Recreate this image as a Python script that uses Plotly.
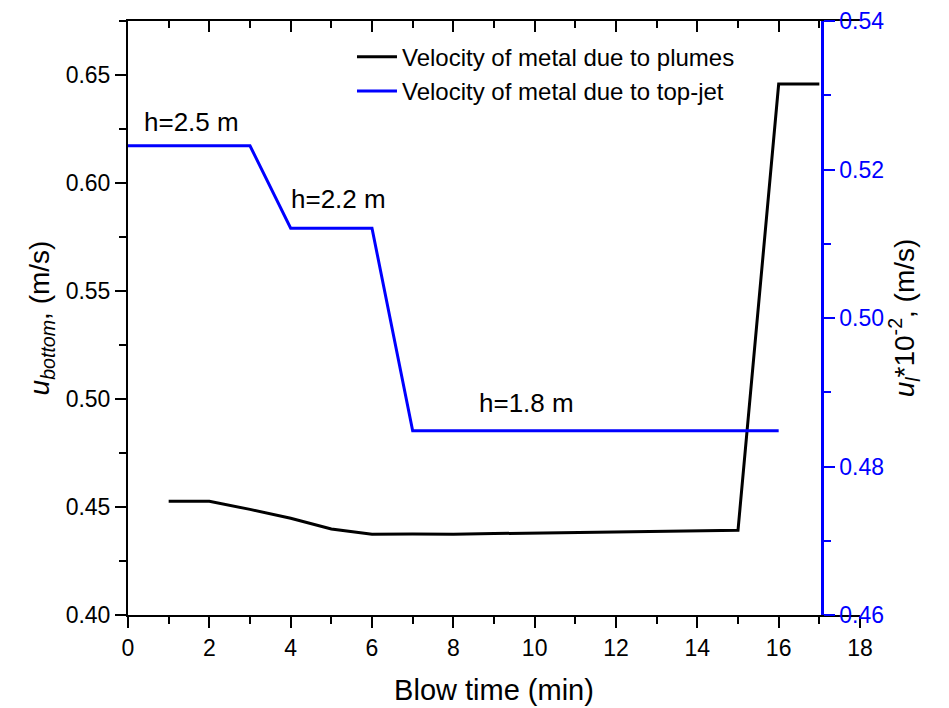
import plotly.graph_objects as go

# Blow time (min)
time_plumes = [1, 2, 3, 4, 5, 6, 7, 8, 9, 10, 11, 12, 13, 14, 15, 16, 17]
# Bottom velocity of metal driven by plumes (m/s)
u_bottom = [0.4527, 0.4527, 0.4489, 0.4448, 0.4398, 0.4374, 0.4375, 0.4374,
            0.4377, 0.4380, 0.4382, 0.4384, 0.4386, 0.4389, 0.4392, 0.6458, 0.6458]

# Top-jet driven velocity (x10^-2 m/s) at the lance heights
time_jet = [0, 3, 4, 6, 7, 16]
u_jet = [0.5232, 0.5232, 0.5121, 0.5121, 0.4848, 0.4848]

# Lance height labels
lance_labels = ["h=2.5 m", "h=2.2 m", "h=1.8 m"]
lance_x = [1.57, 5.18, 9.81]
lance_y = [0.6282, 0.5926, 0.4981]

FONT = "Arial, 'Liberation Sans', sans-serif"
BLUE = "#0000FF"

fig = go.Figure()

fig.add_trace(go.Scatter(
    x=time_plumes, y=u_bottom, mode="lines",
    line=dict(color="black", width=3),
    name="Velocity of metal due to plumes",
    xaxis="x", yaxis="y",
))
fig.add_trace(go.Scatter(
    x=time_jet, y=u_jet, mode="lines",
    line=dict(color=BLUE, width=3),
    name="Velocity of metal due to top-jet",
    xaxis="x2", yaxis="y2",
))

for txt, xv, yv in zip(lance_labels, lance_x, lance_y):
    fig.add_annotation(
        x=xv, y=yv, xref="x", yref="y", text=txt, showarrow=False,
        font=dict(family=FONT, size=26, color="black"),
        xanchor="center", yanchor="middle",
    )

axis_common = dict(showgrid=False, zeroline=False, linecolor="black",
                   linewidth=2, tickcolor="black", tickwidth=2,
                   automargin=False)

fig.update_layout(
    width=949, height=708,
    margin=dict(l=128, r=89, t=21, b=93),
    paper_bgcolor="white", plot_bgcolor="white",
    font=dict(family=FONT, size=23, color="black"),
    showlegend=True,
    legend=dict(
        x=0.306, y=0.977, xanchor="left", yanchor="top",
        bgcolor="rgba(0,0,0,0)", borderwidth=0,
        font=dict(family=FONT, size=24, color="black"),
        tracegroupgap=0, itemwidth=40,
    ),
    xaxis=dict(
        **axis_common,
        range=[0, 18], dtick=2, tick0=0,
        ticks="outside", ticklen=11, showline=True,
        minor=dict(dtick=1, ticks="outside", ticklen=7,
                   tickcolor="black", tickwidth=2),
        tickfont=dict(size=23),
        title=dict(text="Blow time (min)", font=dict(size=29), standoff=20),
    ),
    xaxis2=dict(
        **axis_common,
        range=[0, 18], dtick=2, tick0=0,
        overlaying="x", side="top", anchor="y",
        ticks="inside", ticklen=11, showline=True, showticklabels=False,
        minor=dict(dtick=1, ticks="inside", ticklen=7,
                   tickcolor="black", tickwidth=2),
    ),
    yaxis=dict(
        **axis_common,
        range=[0.40, 0.675], dtick=0.05, tick0=0.40, tickformat=".2f",
        ticks="outside", ticklen=11, showline=True,
        minor=dict(dtick=0.025, ticks="outside", ticklen=7,
                   tickcolor="black", tickwidth=2),
        tickfont=dict(size=23),
        title=dict(text="<i>u</i><sub><i>bottom</i></sub>, (m/s)",
                   font=dict(size=28), standoff=8),
    ),
    yaxis2=dict(
        showgrid=False, zeroline=False, automargin=False,
        range=[0.46, 0.54], dtick=0.02, tick0=0.46, tickformat=".2f",
        overlaying="y", side="right", anchor="free", position=0.948,
        showline=True, linecolor=BLUE, linewidth=2.5,
        ticks="outside", ticklen=11, tickcolor=BLUE, tickwidth=2,
        minor=dict(dtick=0.01, ticks="outside", ticklen=7,
                   tickcolor=BLUE, tickwidth=2),
        tickfont=dict(size=23, color=BLUE),
        title=dict(text="<i>u</i><sub><i>l</i></sub>*10<sup>-2</sup>, (m/s)",
                   font=dict(size=28, color="black"), standoff=0),
    ),
)

fig.write_html("out.html")
